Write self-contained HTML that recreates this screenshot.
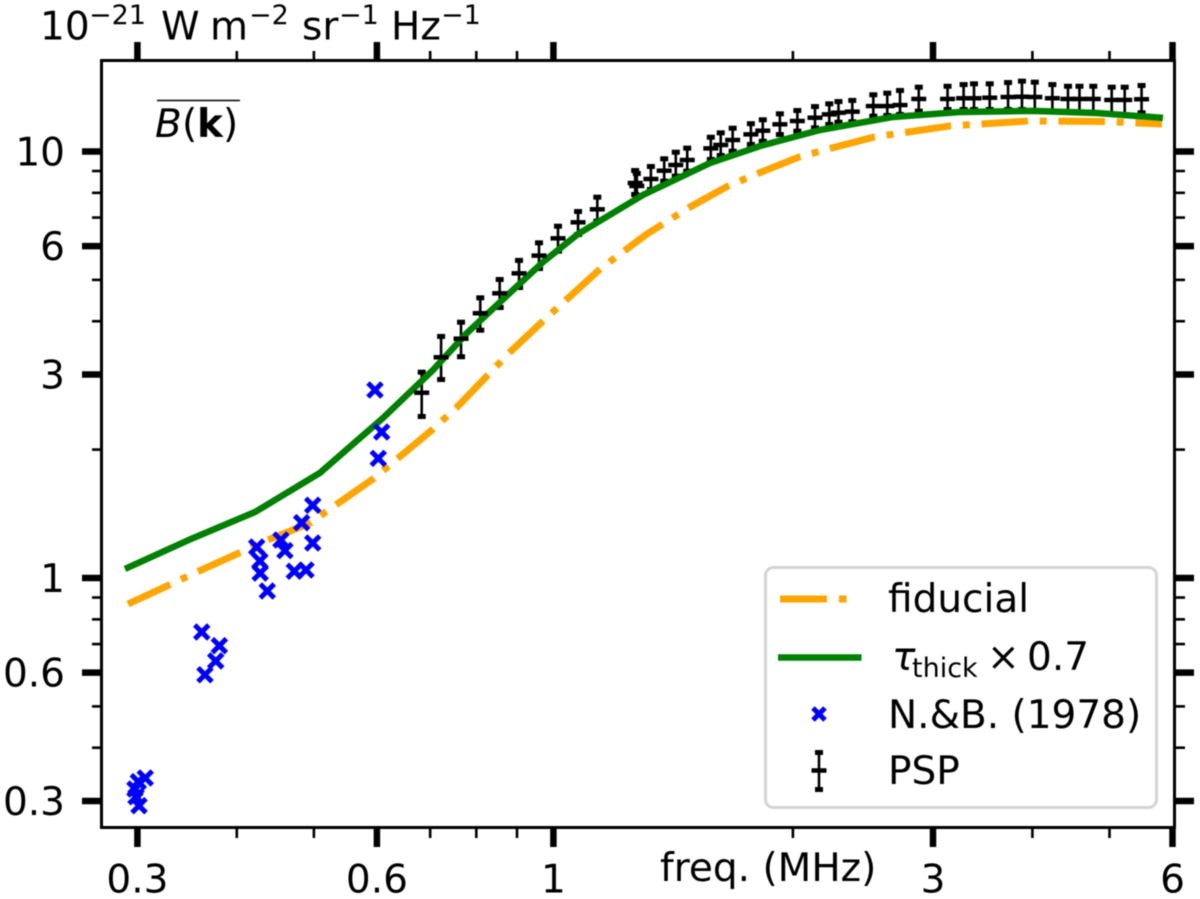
<!DOCTYPE html>
<html lang="en">
<head>
<meta charset="utf-8">
<title>Brightness versus frequency</title>
<style>
html,body{margin:0;padding:0;background:#fff;width:1200px;height:899px;overflow:hidden}
svg{display:block;filter:blur(0.4px)}
text{font-family:"DejaVu Sans","Liberation Sans",sans-serif;font-size:39px;fill:#000}
.sup{font-size:27px}
</style>
</head>
<body>
<svg id="chart" xmlns="http://www.w3.org/2000/svg" width="1200" height="899" viewBox="0 0 1200 899">
  <rect x="0" y="0" width="1200" height="899" fill="#fff"/>
  <g id="series-layer"></g>
  <rect x="101.5" y="60.5" width="1073" height="767" fill="none" stroke="#000" stroke-width="3"/>
  <g id="tick-layer"></g>

  <g>
    <text x="40" y="39.5">10</text>
    <text class="sup" x="89" y="24">−21</text>
    <text x="161" y="39.5">W</text>
    <text x="210" y="39.5">m</text>
    <text class="sup" x="249" y="24">−2</text>
    <text x="302" y="39.5">sr</text>
    <text class="sup" x="339" y="24">−1</text>
    <text x="391" y="39.5">Hz</text>
    <text class="sup" x="441" y="24">−1</text>
  </g>

  <g>
    <line x1="157" y1="100.5" x2="240" y2="100.5" stroke="#000" stroke-width="1.6"/>
    <text x="155" y="137" font-style="italic">B</text>
    <text x="182" y="137">(</text>
    <text x="197" y="137" font-weight="bold">k</text>
    <text x="223" y="137">)</text>
  </g>

  <text x="660" y="881">freq. (MHz)</text>

  <g id="legend">
    <rect x="765.5" y="567.5" width="391" height="240" rx="8" ry="8" fill="#fff" fill-opacity="0.8" stroke="#d4d4d4" stroke-width="3"/>
    <g>
      <line x1="780" y1="599" x2="827" y2="599" stroke="#ffa500" stroke-width="7"/>
      <line x1="839" y1="599" x2="846.5" y2="599" stroke="#ffa500" stroke-width="7"/>
      <text x="888" y="612">fiducial</text>
    </g>
    <g>
      <line x1="778" y1="657.5" x2="861.5" y2="657.5" stroke="#008000" stroke-width="6.5"/>
      <text x="892" y="670" font-style="italic">τ</text>
      <text x="912" y="677" style="font-size:27px">thick</text>
      <text x="987" y="670">×</text>
      <text x="1027" y="670">0.7</text>
    </g>
    <g>
      <path d="M813 708L825 720M825 708L813 720" stroke="#0000ff" stroke-width="5" fill="none"/>
      <text x="888" y="728">N.&amp;B. (1978)</text>
    </g>
    <g>
      <line x1="819" y1="751" x2="819" y2="791" stroke="#000" stroke-width="2.6"/>
      <line x1="815" y1="752.5" x2="823" y2="752.5" stroke="#000" stroke-width="5"/>
      <line x1="815" y1="789.5" x2="823" y2="789.5" stroke="#000" stroke-width="5"/>
      <line x1="811.5" y1="770.5" x2="826.5" y2="770.5" stroke="#000" stroke-width="4.5"/>
      <text x="888" y="784">PSP</text>
    </g>
  </g>
</svg>

<script>
// ---- Chart data (frequency in MHz, brightness in 10^-21 W m^-2 sr^-1 Hz^-1) ----
const xMajorTicks = [0.3, 0.6, 1, 3, 6];
const xMinorTicks = [0.4, 0.5, 0.7, 0.8, 0.9, 2, 4, 5];
const yMajorTicks = [0.3, 0.6, 1, 3, 6, 10];
const yMinorTicks = [0.4, 0.5, 0.7, 0.8, 0.9, 2, 4, 5, 7, 8, 9];
const xTickLabels = ["0.3", "0.6", "1", "3", "6"];
const yTickLabels = ["0.3", "0.6", "1", "3", "6", "10"];

const fiducialFreq = [0.2920,0.3585,0.4378,0.4944,0.5932,0.7059,0.7567,0.8820,0.9704,1.1445,1.311,1.485,1.658,1.813,2.036,2.239,2.529,3.151,3.961,4.935,5.820];
const fiducialValue = [0.8691,1.038,1.228,1.346,1.707,2.235,2.517,3.387,4.005,5.302,6.406,7.411,8.302,8.905,9.707,10.19,10.81,11.48,11.79,11.76,11.60];

const thickFreq = [0.2894,0.3515,0.4217,0.5087,0.6107,0.7059,0.7787,0.8896,0.9704,1.074,1.296,1.573,1.819,2.163,2.672,3.244,4.008,4.823,5.837];
const thickValue = [1.050,1.238,1.428,1.763,2.373,3.074,3.754,4.734,5.507,6.406,7.908,9.397,10.30,11.23,12.05,12.38,12.45,12.31,11.99];

const nbFreq = [0.3069,0.3008,0.2979,0.2988,0.3014,0.3614,0.3803,0.3763,0.3648,0.4237,0.4277,0.4280,0.4369,0.4545,0.4598,0.4724,0.4887,0.4826,0.4983,0.4983,0.5967,0.6084,0.6024];
const nbValue = [0.3397,0.3330,0.3200,0.3070,0.2925,0.7470,0.6939,0.6390,0.5932,1.182,1.096,1.027,0.9322,1.228,1.159,1.037,1.044,1.348,1.481,1.208,2.759,2.200,1.908];

const pspFreq = [0.6831,0.7225,0.7654,0.8092,0.8560,0.9053,0.9592,1.0134,1.074,1.1355,1.267,1.273,1.326,1.378,1.425,1.473,1.577,1.623,1.680,1.771,1.833,1.926,2.026,2.132,2.222,2.282,2.375,2.524,2.628,2.727,2.879,3.129,3.278,3.378,3.535,3.728,3.881,4.028,4.238,4.434,4.584,4.771,5.032,5.225,5.486];
const pspValue = [2.719,3.293,3.640,4.176,4.651,5.180,5.700,6.258,6.823,7.319,8.437,8.302,8.621,9.016,9.298,9.552,10.17,10.36,10.64,10.97,11.19,11.58,11.79,12.00,12.22,12.33,12.40,12.78,12.78,12.85,13.28,13.28,13.33,13.33,13.37,13.42,13.44,13.42,13.33,13.28,13.28,13.28,13.21,13.21,13.26];
const pspUpper = [3.046,3.694,3.990,4.551,5.024,5.569,6.124,6.699,7.252,7.836,9.050,8.905,9.247,9.640,9.989,10.21,10.83,11.09,11.37,11.65,11.90,12.29,12.51,12.78,12.97,13.13,13.21,13.62,13.74,13.94,14.19,14.26,14.39,14.45,14.45,14.55,14.66,14.58,14.39,14.26,14.26,14.26,14.19,14.19,14.32];
const pspLower = [2.385,2.912,3.293,3.801,4.296,4.786,5.302,5.822,6.371,6.845,7.908,7.781,8.123,8.497,8.730,8.967,9.552,9.760,9.989,10.36,10.54,10.93,11.13,11.33,11.54,11.68,11.71,12.07,12.11,12.18,12.40,12.51,12.51,12.51,12.51,12.51,12.51,12.40,12.40,12.31,12.31,12.31,12.18,12.18,12.29];

// ---- Axis functions ----
function xScale(f) { return 553.4 + 795.6 * Math.log10(f); }
function yScale(v) { return 578 - 426.5 * Math.log10(v); }

const NS = "http://www.w3.org/2000/svg";
const seriesLayer = document.getElementById("series-layer");
const tickLayer = document.getElementById("tick-layer");

function make(tag, parent, attrs) {
  const el = document.createElementNS(NS, tag);
  for (const k in attrs) el.setAttribute(k, attrs[k]);
  parent.appendChild(el);
  return el;
}
function hLine(parent, x1, x2, y, sw) {
  return make("line", parent, { x1: x1, x2: x2, y1: y, y2: y, stroke: "#000", "stroke-width": sw });
}
function vLine(parent, x, y1, y2, sw) {
  return make("line", parent, { x1: x, x2: x, y1: y1, y2: y2, stroke: "#000", "stroke-width": sw });
}
function pointsOf(xs, ys) {
  return xs.map((x, i) => xScale(x).toFixed(2) + "," + yScale(ys[i]).toFixed(2)).join(" ");
}

// ---- PSP error bars (under the model curves) ----
pspFreq.forEach((f, i) => {
  const x = xScale(f), top = yScale(pspUpper[i]), bot = yScale(pspLower[i]);
  const g = make("g", seriesLayer, {});
  
  
  vLine(g, x, top, bot, 2.6);
  hLine(g, x - 4, x + 4, top + 0.5, 5);
  hLine(g, x - 4, x + 4, bot - 0.5, 5);
});

// ---- Model curves ----
const fiducialLine = make("polyline", seriesLayer, {
  points: pointsOf(fiducialFreq, fiducialValue), fill: "none", stroke: "#ffa500",
  "stroke-width": 7, "stroke-dasharray": "46.5 11.75 7 11.75", "stroke-linejoin": "round"
});



const thickLine = make("polyline", seriesLayer, {
  points: pointsOf(thickFreq, thickValue), fill: "none", stroke: "#008000",
  "stroke-width": 6.5, "stroke-linejoin": "round"
});



// ---- PSP centre markers ----
pspFreq.forEach((f, i) => {
  const x = xScale(f), y = yScale(pspValue[i]);
  const m = hLine(seriesLayer, x - 7.5, x + 7.5, y, 4.5);
  
  
});

// ---- N.&B. crosses ----
nbFreq.forEach((f, i) => {
  const x = xScale(f), y = yScale(nbValue[i]), r = 7;
  const p = make("path", seriesLayer, {
    d: `M${x - r} ${y - r}L${x + r} ${y + r}M${x + r} ${y - r}L${x - r} ${y + r}`,
    stroke: "#0000ff", "stroke-width": 5, fill: "none"
  });
  
  
});

// ---- Ticks and tick labels ----
xMajorTicks.forEach((f, i) => {
  const x = xScale(f);
  const b = vLine(tickLayer, x, 827, 847, 6.5);
  
  
  const t = vLine(tickLayer, x, 42, 60, 6.5);
  
  
  const lab = make("text", tickLayer, { x: x, y: 892.5, "text-anchor": "middle" });
  lab.textContent = xTickLabels[i];
  
  
});
xMinorTicks.forEach((f) => {
  const x = xScale(f);
  const b = vLine(tickLayer, x, 827, 838, 2.6);
  
  
  const t = vLine(tickLayer, x, 51, 60, 2.6);
  
  
});
yMajorTicks.forEach((v, i) => {
  const y = yScale(v);
  const l = hLine(tickLayer, 82, 101, y, 6.5);
  
  
  const r = hLine(tickLayer, 1175, 1194, y, 6.5);
  
  
  const lab = make("text", tickLayer, { x: 65, y: y + 14, "text-anchor": "end" });
  lab.textContent = yTickLabels[i];
  
  
});
yMinorTicks.forEach((v) => {
  const y = yScale(v);
  const l = hLine(tickLayer, 92, 101, y, 2.6);
  
  
  const r = hLine(tickLayer, 1175, 1185, y, 2.6);
  
  
});
</script>
</body>
</html>
